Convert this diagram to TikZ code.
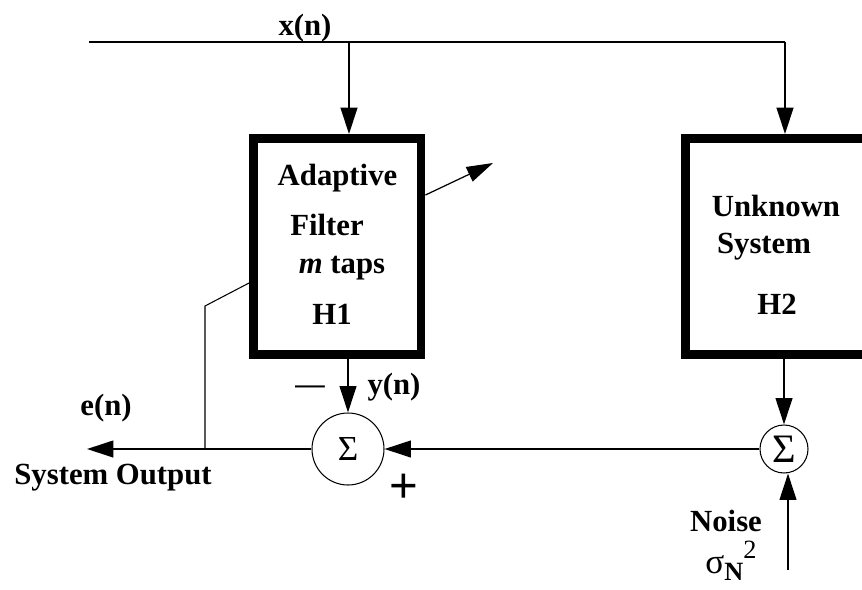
\documentclass[tikz,border=0pt]{standalone}
\usepackage{fontspec}
\setmainfont{Liberation Serif}
\setsansfont{Liberation Sans}
\usepackage{tikz}
\usetikzlibrary{arrows.meta,positioning,calc}
\definecolor{cInk}{HTML}{000000}
\tikzset{
  blk/.style={draw=cInk,fill=white,line width=5.1pt,minimum height=4.32cm,inner sep=0pt},
  sumc/.style={draw=cInk,circle,line width=0.6pt,inner sep=0pt,text=cInk},
  arr/.style={-{Triangle[length=15pt,width=9.5pt]},line width=1.1pt,color=cInk},
  adj/.style={-{Triangle[length=15pt,width=9pt]},line width=0.7pt,color=cInk},
  wire/.style={line width=1.1pt,color=cInk},
  fine/.style={line width=0.6pt,color=cInk},
  lbl/.style={font=\fontsize{17.5}{20}\selectfont\bfseries,text=cInk,inner sep=0pt,anchor=base},
}

\begin{document}
\begin{tikzpicture}[x=0.02cm,y=-0.02cm]
  \clip (0,0) rectangle (862,589);
  % blocks
  \node[blk,minimum width=3.35cm] (adf) at (337.25,246.5) {};
  \node[blk,minimum width=3.98cm] (unk) at (785,246.5) {};
  \node[lbl] (adaptl) at (337.5,185) {Adaptive};
  \node[lbl] (filtl) at (327,235) {Filter};
  \node[lbl] (tapsl) at (342,273) {\textit{m} taps};
  \node[lbl] (honel) at (332,324) {H1};
  \node[lbl] (unknl) at (776,216) {Unknown};
  \node[lbl] (systl) at (764,253) {System};
  \node[lbl] (htwol) at (777,314) {H2};
  % summing junctions
  \node[sumc,minimum size=1.44cm,font=\fontsize{20}{20}\selectfont] (sumA) at (348,449) {Σ};
  \node[sumc,minimum size=0.96cm,font=\fontsize{23}{23}\selectfont] (sumB) at (784,449) {Σ};
  % free ends
  \coordinate (xin) at (89,41.7);
  \coordinate (tapA) at (349,41.7);
  \coordinate (tapB) at (785,41.7);
  \coordinate (eout) at (87,449);
  \coordinate (fb) at (205,449);
  \coordinate (fbturn) at (205,306);
  \coordinate (fbend) at (adf.west |- 0,283);
  \coordinate (adjbase) at (adf.east |- 0,195);
  \coordinate (adjtip) at (493,163);
  \coordinate (noise) at (788,570);
  % signal paths
  \draw[wire] (xin) -- (tapB);
  \draw[arr] (tapA) -- (tapA |- adf.north);
  \draw[arr] (tapB) -- (unk.north);
  \draw[arr] (sumA |- adf.south) -- (sumA.north);
  \draw[arr] (sumB |- unk.south) -- (sumB.north);
  \draw[arr] (sumB.west) -- (sumA.east);
  \draw[arr] (sumA.west) -- (eout);
  \draw[arr] (noise) -- (noise |- sumB.south);
  \draw[fine] (fb) -- (fbturn) -- (fbend);
  \draw[adj] (adjbase) -- (adjtip);
  % labels
  \node[lbl] (xnl) at (305,35) {x(n)};
  \node[lbl] (ynl) at (394,394) {y(n)};
  \node[lbl] (enl) at (106,415) {e(n)};
  \node[lbl] (outl) at (113,484) {System Output};
  \node[lbl] (noisl) at (726,531) {Noise};
  \node[lbl,anchor=base west] (sigl) at (705,573) {{\mdseries\fontsize{20}{20}\selectfont σ}\raisebox{-4pt}{\fontsize{15}{15}\selectfont N}\raisebox{8pt}{\fontsize{15}{15}\selectfont\mdseries 2}};
  \node[font=\sffamily\fontsize{17}{17}\selectfont,inner sep=0pt] (minusl) at (310,390) {—};
  \node[font=\sffamily\fontsize{28}{28}\selectfont,inner sep=0pt] (plusl) at (403.5,488) {+};
\end{tikzpicture}
\end{document}
